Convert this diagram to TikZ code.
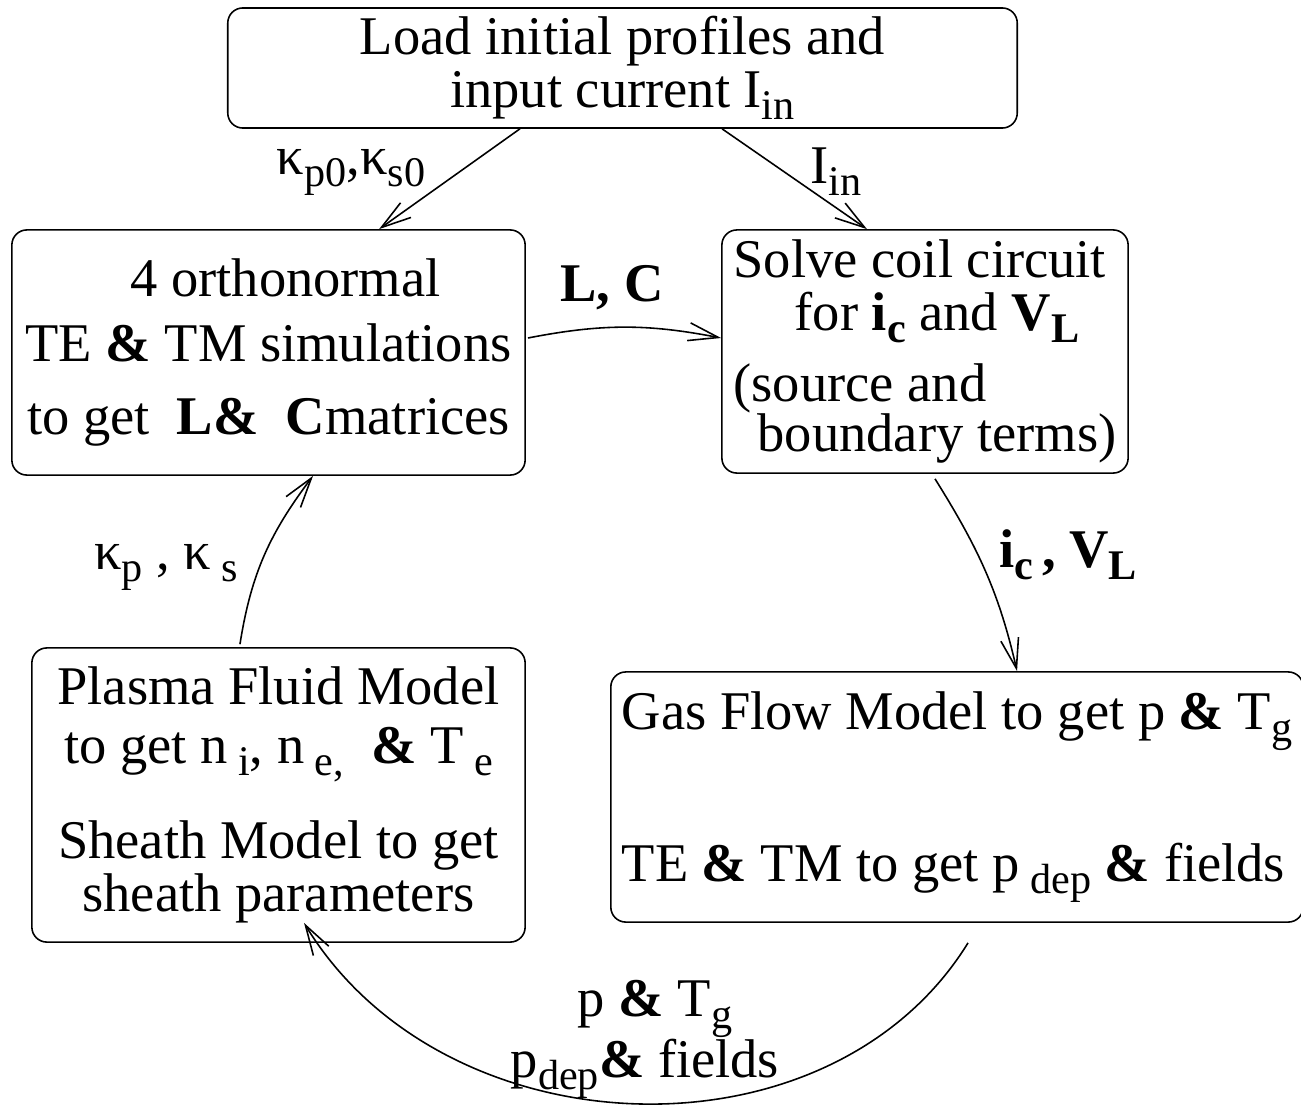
\documentclass[tikz,border=0pt]{standalone}
\usepackage{fontspec}
\setmainfont{Liberation Serif}
\usepackage{tikz}
\usetikzlibrary{arrows.meta}

\newcommand\lo[1]{\raisebox{-0.22em}{\fontsize{12}{12}\selectfont #1}}
\newcommand\amp{\textbf{\&}}

\begin{document}
\begin{tikzpicture}[x=0.01cm,y=0.01cm,
    font=\fontsize{15.5}{15}\selectfont,
    box/.style={draw,rounded corners=0.15cm,inner sep=0pt,line width=0.45pt},
    flow/.style={-{Straight Barb[length=3mm,width=1.8mm]},line width=0.45pt}]
  \useasboundingbox (0,0) rectangle (1301,1114);

  % the five stages
  \node[box,minimum width=7.89cm,minimum height=1.20cm,align=center] (load) at (622.5,1046)
    {Load initial profiles and\\input current I\lo{in}};
  \node[box,minimum width=5.13cm,minimum height=2.45cm,align=center] (ortho) at (268.5,761.5)
    {\hspace*{0.34cm}4 orthonormal\\[0.12cm]TE \amp{} TM simulations\\[0.2cm]to get~~\textbf{L}\amp~~\textbf{C}matrices};
  \node[box,minimum width=4.06cm,minimum height=2.43cm,align=left] (coil) at (925,762.5)
    {Solve coil circuit\\\hspace*{0.61cm}for \textbf{i\lo{c}} and \textbf{V\lo{L}}\\[0.19cm](source and\\[-0.03cm]\hspace*{0.24cm}boundary terms)};
  \node[box,minimum width=4.93cm,minimum height=2.94cm,align=center] (plasma) at (278.5,319)
    {Plasma Fluid Model\\[0.06cm]to get n\lo{~i}, n\lo{~e,}~~\amp~T\lo{~e}\\[0.35cm]Sheath Model to get\\sheath parameters};
  \node[box,minimum width=6.92cm,minimum height=2.50cm,align=left] (gas) at (957,317)
    {Gas Flow Model to get p \amp\ T\lo{g}\\[0.89cm]TE \amp\ TM to get p\lo{~dep}~\amp\ fields};

  % connectors
  \draw[flow] ([xshift=-1.025cm]load.south) -- ([xshift=1.105cm]ortho.north);
  \draw[flow] ([xshift=0.995cm]load.south) -- ([xshift=-0.58cm]coil.north);
  \draw[flow] ([xshift=0.02cm,yshift=0.145cm]ortho.east) to[bend left=11] ([yshift=0.135cm]coil.west);
  \draw[flow] ([xshift=0.1cm,yshift=-0.05cm]coil.south) to[out=-58,in=103] ([xshift=0.6cm]gas.north);
  \draw[flow] ([xshift=0.11cm,yshift=-0.2cm]gas.south)
    .. controls +(-139,-225) and +(140,-230) .. ([xshift=0.255cm,yshift=0.2cm]plasma.south);
  \draw[flow] ([xshift=-0.385cm,yshift=0.03cm]plasma.north) to[out=81,in=-127] ([xshift=0.445cm]ortho.south);

  % what is passed along
  \node (kap0) at (351,942) {κ\lo{p0},κ\lo{s0}};
  \node (iin) at (836,942) {I\lo{in}};
  \node (lc) at (612,826) {\textbf{L, C}};
  \node (icvl) at (1068,559) {\textbf{i\lo{c}\,, V\lo{L}}};
  \node (kap) at (166,547) {κ\lo{p} , κ\lo{~s}};
  \node (ptg) at (655,105) {p \amp\ T\lo{g}};
  \node (pdep) at (645,45) {p\lo{dep}\amp\ fields};
\end{tikzpicture}
\end{document}
